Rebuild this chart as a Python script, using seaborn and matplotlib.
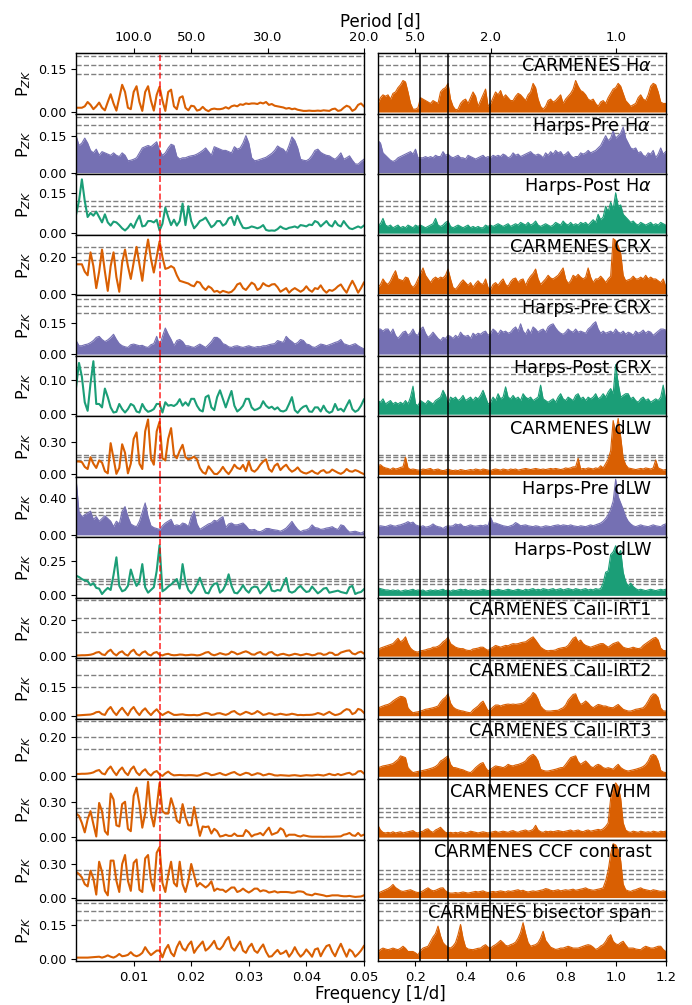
import matplotlib
matplotlib.use("Agg")
import matplotlib.pyplot as plt
import numpy as np
import pandas as pd
import seaborn as sns

# sampling grids [1/d]: left column 0-0.05, right column 0.05-1.2
freq_lo = np.round(np.arange(101) * 0.0005, 4)
freq_hi = np.round(0.05 + np.arange(116) * 0.01, 3)

# --- power values (left / right column) ---
carm_ha_lo = [
    0.015, 0.015, 0.015, 0.02, 0.035, 0.025, 0.01, 0.02, 0.033, 0.015,
    0.006, 0.035, 0.062, 0.03, 0.005, 0.05, 0.095, 0.07, 0.015, 0.01,
    0.07, 0.09, 0.035, 0.004, 0.07, 0.09, 0.04, 0.005, 0.06, 0.088,
    0.04, 0.004, 0.07, 0.078, 0.02, 0.01, 0.05, 0.055, 0.015, 0.006,
    0.022, 0.02, 0.005, 0.008, 0.018, 0.008, 0.003, 0.01, 0.012, 0.01,
    0.01, 0.012, 0.017, 0.012, 0.02, 0.023, 0.02, 0.027, 0.025, 0.03,
    0.028, 0.03, 0.03, 0.028, 0.033, 0.03, 0.035, 0.025, 0.028, 0.022,
    0.02, 0.018, 0.016, 0.012, 0.014, 0.01, 0.012, 0.008, 0.006, 0.004,
    0.004, 0.005, 0.004, 0.004, 0.005, 0.004, 0.006, 0.005, 0.004, 0.01,
    0.012, 0.004, 0.006, 0.015, 0.022, 0.018, 0.004, 0.01, 0.025, 0.03, 0.02]
carm_ha_hi = [
    0.03, 0.05, 0.06, 0.055, 0.06, 0.045, 0.065, 0.07, 0.085, 0.095,
    0.11, 0.105, 0.07, 0.03, 0.01, 0.01, 0.015, 0.05, 0.045, 0.04,
    0.035, 0.03, 0.04, 0.035, 0.03, 0.07, 0.08, 0.085, 0.1, 0.045,
    0.02, 0.008, 0.01, 0.03, 0.04, 0.045, 0.03, 0.05, 0.07, 0.055,
    0.02, 0.04, 0.06, 0.08, 0.02, 0.03, 0.05, 0.07, 0.06, 0.075,
    0.05, 0.06, 0.05, 0.04, 0.04, 0.055, 0.065, 0.06, 0.05, 0.04,
    0.06, 0.07, 0.1, 0.085, 0.045, 0.02, 0.01, 0.02, 0.04, 0.045,
    0.035, 0.04, 0.05, 0.06, 0.03, 0.045, 0.055, 0.065, 0.08, 0.11,
    0.09, 0.075, 0.07, 0.06, 0.045, 0.04, 0.045, 0.03, 0.02, 0.035,
    0.04, 0.03, 0.05, 0.065, 0.08, 0.085, 0.1, 0.09, 0.065, 0.04,
    0.03, 0.02, 0.025, 0.03, 0.05, 0.06, 0.045, 0.04, 0.06, 0.09,
    0.1, 0.095, 0.07, 0.035, 0.03, 0.03]

hpre_ha_lo = [
    0.15, 0.11, 0.12, 0.14, 0.12, 0.09, 0.08, 0.095, 0.07, 0.085,
    0.08, 0.075, 0.07, 0.08, 0.07, 0.065, 0.08, 0.07, 0.048, 0.05,
    0.054, 0.06, 0.08, 0.1, 0.105, 0.11, 0.105, 0.115, 0.125, 0.09,
    0.07, 0.08, 0.1, 0.115, 0.11, 0.065, 0.055, 0.06, 0.06, 0.065,
    0.068, 0.07, 0.075, 0.082, 0.09, 0.1, 0.085, 0.07, 0.105, 0.1,
    0.095, 0.09, 0.09, 0.085, 0.08, 0.105, 0.095, 0.1, 0.12, 0.15,
    0.12, 0.06, 0.048, 0.05, 0.054, 0.058, 0.062, 0.07, 0.078, 0.09,
    0.108, 0.1, 0.095, 0.08, 0.11, 0.145, 0.13, 0.1, 0.054, 0.05,
    0.048, 0.055, 0.07, 0.09, 0.095, 0.082, 0.075, 0.07, 0.068, 0.06,
    0.054, 0.065, 0.08, 0.054, 0.06, 0.068, 0.05, 0.035, 0.034, 0.045, 0.054]
hpre_ha_hi = [
    0.13, 0.12, 0.08, 0.07, 0.06, 0.05, 0.045, 0.05, 0.06, 0.065,
    0.07, 0.075, 0.08, 0.085, 0.075, 0.095, 0.06, 0.06, 0.06, 0.065,
    0.06, 0.065, 0.06, 0.07, 0.065, 0.065, 0.085, 0.07, 0.075, 0.065,
    0.06, 0.065, 0.07, 0.06, 0.06, 0.055, 0.07, 0.065, 0.06, 0.055,
    0.06, 0.065, 0.07, 0.06, 0.065, 0.06, 0.07, 0.065, 0.07, 0.065,
    0.075, 0.07, 0.06, 0.065, 0.08, 0.07, 0.075, 0.065, 0.07, 0.075,
    0.08, 0.085, 0.075, 0.07, 0.075, 0.07, 0.06, 0.08, 0.07, 0.085,
    0.075, 0.09, 0.08, 0.085, 0.07, 0.075, 0.085, 0.07, 0.06, 0.065,
    0.065, 0.08, 0.075, 0.08, 0.09, 0.08, 0.085, 0.09, 0.1, 0.11,
    0.13, 0.15, 0.13, 0.14, 0.17, 0.14, 0.15, 0.16, 0.185, 0.14,
    0.12, 0.1, 0.095, 0.1, 0.08, 0.085, 0.07, 0.065, 0.08, 0.075,
    0.09, 0.06, 0.075, 0.1, 0.075, 0.085]

hpost_ha_lo = [
    0.07, 0.12, 0.2, 0.12, 0.06, 0.075, 0.065, 0.08, 0.06, 0.04,
    0.07, 0.04, 0.028, 0.043, 0.04, 0.03, 0.018, 0.01, 0.02, 0.035,
    0.02, 0.045, 0.065, 0.025, 0.028, 0.045, 0.045, 0.04, 0.05, 0.01,
    0.035, 0.095, 0.06, 0.03, 0.05, 0.028, 0.045, 0.11, 0.03, 0.1,
    0.045, 0.018, 0.03, 0.045, 0.05, 0.058, 0.04, 0.022, 0.03, 0.045,
    0.045, 0.028, 0.035, 0.055, 0.06, 0.03, 0.065, 0.04, 0.02, 0.018,
    0.02, 0.025, 0.022, 0.018, 0.022, 0.03, 0.012, 0.009, 0.01, 0.009,
    0.015, 0.025, 0.018, 0.015, 0.02, 0.022, 0.025, 0.02, 0.03, 0.028,
    0.025, 0.032, 0.03, 0.045, 0.04, 0.025, 0.035, 0.045, 0.03, 0.025,
    0.045, 0.03, 0.025, 0.045, 0.03, 0.018, 0.015, 0.02, 0.025, 0.02, 0.028]
hpost_ha_hi = [
    0.03, 0.035, 0.055, 0.03, 0.025, 0.03, 0.02, 0.025, 0.03, 0.02,
    0.025, 0.02, 0.03, 0.025, 0.02, 0.03, 0.025, 0.03, 0.025, 0.02,
    0.025, 0.03, 0.035, 0.055, 0.03, 0.025, 0.03, 0.04, 0.045, 0.025,
    0.02, 0.025, 0.03, 0.025, 0.02, 0.025, 0.03, 0.02, 0.025, 0.02,
    0.025, 0.02, 0.02, 0.03, 0.025, 0.03, 0.025, 0.03, 0.035, 0.03,
    0.025, 0.03, 0.035, 0.025, 0.03, 0.035, 0.03, 0.04, 0.035, 0.03,
    0.04, 0.03, 0.035, 0.045, 0.03, 0.025, 0.03, 0.035, 0.03, 0.025,
    0.03, 0.04, 0.035, 0.03, 0.045, 0.035, 0.03, 0.04, 0.03, 0.035,
    0.03, 0.04, 0.035, 0.04, 0.03, 0.04, 0.05, 0.04, 0.07, 0.05,
    0.06, 0.1, 0.08, 0.115, 0.09, 0.15, 0.1, 0.105, 0.07, 0.06,
    0.05, 0.04, 0.045, 0.035, 0.03, 0.04, 0.035, 0.03, 0.035, 0.04,
    0.03, 0.035, 0.03, 0.04, 0.035, 0.03]

carm_crx_lo = [
    0.16, 0.16, 0.16, 0.12, 0.1, 0.225, 0.15, 0.03, 0.12, 0.24,
    0.12, 0.015, 0.15, 0.225, 0.09, 0.01, 0.17, 0.24, 0.15, 0.08,
    0.17, 0.255, 0.16, 0.07, 0.2, 0.295, 0.19, 0.115, 0.2, 0.285,
    0.2, 0.135, 0.14, 0.15, 0.14, 0.1, 0.07, 0.065, 0.06, 0.055,
    0.045, 0.04, 0.065, 0.06, 0.035, 0.02, 0.04, 0.03, 0.01, 0.015,
    0.005, 0.015, 0.01, 0.005, 0.01, 0.025, 0.05, 0.057, 0.03, 0.02,
    0.04, 0.06, 0.05, 0.02, 0.03, 0.057, 0.045, 0.04, 0.05, 0.052,
    0.035, 0.01, 0.02, 0.03, 0.005, 0.02, 0.03, 0.02, 0.01, 0.02,
    0.04, 0.02, 0.01, 0.03, 0.025, 0.045, 0.02, 0.005, 0.02, 0.015,
    0.025, 0.04, 0.05, 0.025, 0.005, 0.04, 0.07, 0.04, 0.005, 0.03, 0.06]
carm_crx_hi = [
    0.033, 0.05, 0.08, 0.06, 0.05, 0.07, 0.1, 0.125, 0.08, 0.075,
    0.07, 0.09, 0.085, 0.05, 0.033, 0.05, 0.08, 0.11, 0.14, 0.1,
    0.08, 0.06, 0.08, 0.09, 0.08, 0.09, 0.085, 0.1, 0.134, 0.08,
    0.033, 0.024, 0.04, 0.06, 0.075, 0.06, 0.045, 0.06, 0.035, 0.055,
    0.07, 0.055, 0.05, 0.08, 0.033, 0.024, 0.05, 0.06, 0.045, 0.065,
    0.08, 0.05, 0.04, 0.065, 0.08, 0.085, 0.06, 0.075, 0.08, 0.045,
    0.075, 0.095, 0.11, 0.134, 0.08, 0.05, 0.065, 0.08, 0.1, 0.085,
    0.08, 0.09, 0.1, 0.12, 0.14, 0.08, 0.055, 0.07, 0.1, 0.09,
    0.105, 0.09, 0.08, 0.09, 0.14, 0.09, 0.06, 0.08, 0.08, 0.095,
    0.08, 0.06, 0.08, 0.095, 0.3, 0.29, 0.26, 0.22, 0.1, 0.07,
    0.075, 0.08, 0.095, 0.08, 0.08, 0.09, 0.08, 0.1, 0.08, 0.09,
    0.08, 0.08, 0.07, 0.06, 0.08, 0.04]

hpre_crx_lo = [
    0.065, 0.04, 0.04, 0.045, 0.048, 0.055, 0.065, 0.08, 0.085, 0.07,
    0.06, 0.068, 0.08, 0.095, 0.07, 0.05, 0.04, 0.035, 0.032, 0.045,
    0.048, 0.044, 0.04, 0.042, 0.035, 0.032, 0.045, 0.05, 0.085, 0.04,
    0.085, 0.125, 0.095, 0.07, 0.04, 0.065, 0.07, 0.06, 0.04, 0.04,
    0.035, 0.032, 0.04, 0.048, 0.04, 0.032, 0.045, 0.06, 0.08, 0.08,
    0.07, 0.05, 0.045, 0.035, 0.032, 0.038, 0.04, 0.035, 0.032, 0.036,
    0.04, 0.035, 0.032, 0.036, 0.035, 0.04, 0.04, 0.045, 0.048, 0.05,
    0.065, 0.06, 0.056, 0.085, 0.07, 0.06, 0.048, 0.055, 0.07, 0.065,
    0.048, 0.045, 0.035, 0.032, 0.04, 0.048, 0.045, 0.04, 0.045, 0.05,
    0.056, 0.06, 0.07, 0.05, 0.045, 0.04, 0.045, 0.05, 0.04, 0.032, 0.025]
hpre_crx_hi = [
    0.12, 0.12, 0.11, 0.12, 0.12, 0.1, 0.12, 0.09, 0.075, 0.09,
    0.105, 0.11, 0.09, 0.1, 0.12, 0.095, 0.09, 0.12, 0.13, 0.1,
    0.08, 0.09, 0.105, 0.09, 0.075, 0.065, 0.08, 0.075, 0.09, 0.085,
    0.075, 0.09, 0.08, 0.105, 0.09, 0.085, 0.09, 0.075, 0.1, 0.09,
    0.1, 0.095, 0.105, 0.11, 0.09, 0.1, 0.12, 0.11, 0.095, 0.115,
    0.105, 0.11, 0.1, 0.105, 0.12, 0.13, 0.11, 0.145, 0.11, 0.095,
    0.12, 0.1, 0.13, 0.12, 0.105, 0.115, 0.12, 0.105, 0.13, 0.14,
    0.145, 0.125, 0.11, 0.1, 0.095, 0.105, 0.12, 0.11, 0.105, 0.12,
    0.105, 0.11, 0.105, 0.1, 0.12, 0.13, 0.145, 0.155, 0.12, 0.1,
    0.11, 0.1, 0.105, 0.11, 0.1, 0.12, 0.105, 0.1, 0.11, 0.095,
    0.105, 0.1, 0.09, 0.11, 0.1, 0.105, 0.115, 0.1, 0.11, 0.105,
    0.09, 0.1, 0.11, 0.12, 0.12, 0.115]

hpost_crx_lo = [
    0.08, 0.15, 0.11, 0.035, 0.01, 0.09, 0.155, 0.03, 0.03, 0.02,
    0.075, 0.05, 0.02, 0.005, 0.007, 0.03, 0.015, 0.005, 0.015, 0.03,
    0.025, 0.008, 0.005, 0.03, 0.015, 0.007, 0.01, 0.015, 0.03, 0.03,
    0.005, 0.035, 0.025, 0.027, 0.024, 0.03, 0.044, 0.025, 0.035, 0.025,
    0.045, 0.045, 0.025, 0.012, 0.008, 0.05, 0.055, 0.02, 0.012, 0.05,
    0.07, 0.045, 0.02, 0.045, 0.068, 0.025, 0.008, 0.015, 0.025, 0.045,
    0.045, 0.02, 0.012, 0.015, 0.02, 0.038, 0.025, 0.018, 0.022, 0.014,
    0.02, 0.01, 0.008, 0.012, 0.03, 0.05, 0.012, 0.004, 0.015, 0.022,
    0.025, 0.008, 0.007, 0.02, 0.02, 0.008, 0.025, 0.01, 0.004, 0.008,
    0.03, 0.012, 0.016, 0.008, 0.025, 0.041, 0.015, 0.007, 0.012, 0.025, 0.043]
hpost_crx_hi = [
    0.04, 0.035, 0.045, 0.03, 0.035, 0.04, 0.03, 0.035, 0.03, 0.035,
    0.03, 0.04, 0.03, 0.05, 0.082, 0.03, 0.025, 0.04, 0.035, 0.03,
    0.04, 0.035, 0.03, 0.04, 0.045, 0.05, 0.07, 0.055, 0.03, 0.05,
    0.045, 0.05, 0.04, 0.045, 0.055, 0.04, 0.045, 0.05, 0.04, 0.05,
    0.045, 0.055, 0.07, 0.05, 0.03, 0.035, 0.05, 0.04, 0.06, 0.045,
    0.05, 0.08, 0.05, 0.045, 0.055, 0.045, 0.05, 0.04, 0.06, 0.05,
    0.045, 0.05, 0.04, 0.045, 0.05, 0.085, 0.045, 0.04, 0.035, 0.04,
    0.045, 0.035, 0.05, 0.06, 0.045, 0.04, 0.05, 0.045, 0.04, 0.055,
    0.06, 0.045, 0.05, 0.04, 0.05, 0.045, 0.05, 0.06, 0.045, 0.05,
    0.06, 0.05, 0.065, 0.075, 0.06, 0.145, 0.09, 0.05, 0.055, 0.06,
    0.06, 0.045, 0.05, 0.04, 0.035, 0.045, 0.05, 0.04, 0.045, 0.035,
    0.04, 0.045, 0.04, 0.05, 0.085, 0.04]

carm_dlw_lo = [
    0.12, 0.12, 0.115, 0.07, 0.05, 0.16, 0.1, 0.06, 0.13, 0.11,
    0.03, 0.01, 0.29, 0.15, 0.005, 0.06, 0.28, 0.2, 0.01, 0.1,
    0.33, 0.39, 0.1, 0.05, 0.4, 0.51, 0.15, 0.09, 0.4, 0.49,
    0.15, 0.13, 0.33, 0.43, 0.18, 0.15, 0.22, 0.275, 0.16, 0.14,
    0.15, 0.165, 0.14, 0.06, 0.02, 0.005, 0.075, 0.04, 0.005, 0.003,
    0.03, 0.07, 0.03, 0.003, 0.04, 0.09, 0.06, 0.05, 0.088, 0.03,
    0.12, 0.04, 0.025, 0.05, 0.09, 0.12, 0.14, 0.05, 0.025, 0.08,
    0.1, 0.04, 0.07, 0.09, 0.05, 0.025, 0.04, 0.065, 0.03, 0.015,
    0.008, 0.02, 0.035, 0.015, 0.005, 0.03, 0.04, 0.015, 0.02, 0.045,
    0.03, 0.015, 0.005, 0.02, 0.05, 0.03, 0.025, 0.04, 0.03, 0.015, 0.003]
carm_dlw_hi = [
    0.08, 0.09, 0.07, 0.06, 0.055, 0.045, 0.06, 0.05, 0.055, 0.065,
    0.07, 0.16, 0.06, 0.045, 0.05, 0.045, 0.04, 0.04, 0.05, 0.045,
    0.05, 0.055, 0.04, 0.045, 0.05, 0.04, 0.035, 0.04, 0.05, 0.04,
    0.035, 0.04, 0.035, 0.045, 0.04, 0.035, 0.04, 0.045, 0.04, 0.05,
    0.045, 0.04, 0.05, 0.045, 0.04, 0.035, 0.045, 0.05, 0.045, 0.04,
    0.05, 0.045, 0.04, 0.05, 0.045, 0.05, 0.04, 0.045, 0.05, 0.055,
    0.05, 0.045, 0.05, 0.055, 0.05, 0.045, 0.05, 0.045, 0.05, 0.055,
    0.05, 0.055, 0.05, 0.045, 0.05, 0.06, 0.055, 0.06, 0.07, 0.07,
    0.15, 0.05, 0.055, 0.05, 0.06, 0.055, 0.05, 0.06, 0.055, 0.08,
    0.06, 0.1, 0.14, 0.22, 0.5, 0.38, 0.52, 0.35, 0.15, 0.09,
    0.06, 0.055, 0.05, 0.045, 0.05, 0.055, 0.05, 0.06, 0.055, 0.05,
    0.06, 0.134, 0.06, 0.05, 0.04, 0.045]

hpre_dlw_lo = [
    0.61, 0.25, 0.2, 0.22, 0.24, 0.26, 0.17, 0.2, 0.15, 0.18,
    0.21, 0.18, 0.15, 0.09, 0.15, 0.12, 0.26, 0.31, 0.2, 0.12,
    0.1, 0.09, 0.15, 0.25, 0.35, 0.2, 0.1, 0.08, 0.07, 0.06,
    0.1, 0.13, 0.15, 0.17, 0.1, 0.11, 0.1, 0.13, 0.12, 0.09,
    0.2, 0.26, 0.12, 0.06, 0.08, 0.1, 0.12, 0.13, 0.16, 0.15,
    0.18, 0.2, 0.08, 0.12, 0.13, 0.11, 0.11, 0.12, 0.13, 0.1,
    0.06, 0.055, 0.06, 0.04, 0.035, 0.05, 0.07, 0.07, 0.06, 0.055,
    0.05, 0.04, 0.055, 0.075, 0.11, 0.148, 0.1, 0.06, 0.035, 0.05,
    0.055, 0.07, 0.11, 0.08, 0.075, 0.06, 0.065, 0.075, 0.08, 0.09,
    0.07, 0.06, 0.11, 0.1, 0.06, 0.03, 0.035, 0.04, 0.03, 0.02, 0.035]
hpre_dlw_hi = [
    0.09, 0.1, 0.095, 0.09, 0.1, 0.11, 0.1, 0.095, 0.105, 0.11,
    0.12, 0.13, 0.145, 0.13, 0.14, 0.11, 0.1, 0.09, 0.1, 0.085,
    0.09, 0.1, 0.12, 0.1, 0.09, 0.085, 0.07, 0.09, 0.1, 0.095,
    0.1, 0.12, 0.11, 0.12, 0.095, 0.09, 0.1, 0.11, 0.1, 0.095,
    0.1, 0.105, 0.1, 0.11, 0.1, 0.195, 0.13, 0.13, 0.12, 0.11,
    0.1, 0.095, 0.09, 0.1, 0.11, 0.135, 0.12, 0.1, 0.105, 0.11,
    0.1, 0.095, 0.09, 0.1, 0.095, 0.085, 0.09, 0.1, 0.095, 0.09,
    0.1, 0.105, 0.11, 0.1, 0.11, 0.105, 0.1, 0.11, 0.1, 0.095,
    0.09, 0.1, 0.095, 0.09, 0.1, 0.11, 0.1, 0.11, 0.12, 0.13,
    0.15, 0.18, 0.22, 0.28, 0.37, 0.61, 0.42, 0.35, 0.28, 0.2,
    0.15, 0.12, 0.1, 0.09, 0.1, 0.11, 0.1, 0.095, 0.09, 0.1,
    0.11, 0.1, 0.095, 0.09, 0.11, 0.12]

hpost_dlw_lo = [
    0.145, 0.135, 0.12, 0.11, 0.105, 0.075, 0.09, 0.055, 0.05, 0.01,
    0.035, 0.055, 0.04, 0.15, 0.28, 0.07, 0.03, 0.04, 0.07, 0.19,
    0.12, 0.07, 0.1, 0.23, 0.06, 0.02, 0.04, 0.06, 0.18, 0.37,
    0.03, 0.045, 0.065, 0.08, 0.1, 0.12, 0.05, 0.23, 0.1, 0.04,
    0.015, 0.04, 0.08, 0.13, 0.07, 0.02, 0.015, 0.06, 0.085, 0.09,
    0.02, 0.04, 0.08, 0.155, 0.07, 0.02, 0.015, 0.04, 0.075, 0.04,
    0.02, 0.055, 0.065, 0.06, 0.015, 0.04, 0.06, 0.1, 0.035, 0.03,
    0.04, 0.035, 0.08, 0.128, 0.03, 0.02, 0.03, 0.055, 0.07, 0.045,
    0.025, 0.03, 0.065, 0.04, 0.015, 0.03, 0.05, 0.055, 0.02, 0.025,
    0.03, 0.035, 0.025, 0.02, 0.015, 0.06, 0.07, 0.01, 0.02, 0.025, 0.045]
hpost_dlw_hi = [
    0.055, 0.05, 0.045, 0.04, 0.04, 0.035, 0.04, 0.035, 0.04, 0.03,
    0.035, 0.04, 0.035, 0.04, 0.045, 0.035, 0.04, 0.035, 0.04, 0.03,
    0.035, 0.04, 0.035, 0.04, 0.035, 0.04, 0.045, 0.035, 0.04, 0.03,
    0.04, 0.035, 0.04, 0.045, 0.04, 0.045, 0.035, 0.04, 0.035, 0.04,
    0.035, 0.04, 0.045, 0.04, 0.035, 0.04, 0.035, 0.04, 0.045, 0.04,
    0.035, 0.04, 0.045, 0.04, 0.035, 0.04, 0.045, 0.04, 0.035, 0.045,
    0.04, 0.045, 0.05, 0.04, 0.045, 0.04, 0.05, 0.045, 0.04, 0.045,
    0.05, 0.04, 0.045, 0.05, 0.04, 0.045, 0.05, 0.045, 0.04, 0.05,
    0.045, 0.04, 0.045, 0.05, 0.04, 0.045, 0.04, 0.05, 0.045, 0.05,
    0.09, 0.17, 0.18, 0.3, 0.32, 0.365, 0.3, 0.33, 0.17, 0.1,
    0.07, 0.09, 0.065, 0.05, 0.04, 0.045, 0.04, 0.035, 0.04, 0.045,
    0.04, 0.035, 0.04, 0.045, 0.04, 0.045]

irt1_lo = [
    0.004, 0.004, 0.005, 0.005, 0.006, 0.008, 0.012, 0.02, 0.023, 0.01,
    0.006, 0.025, 0.036, 0.015, 0.004, 0.02, 0.027, 0.01, 0.003, 0.025,
    0.036, 0.012, 0.004, 0.02, 0.027, 0.01, 0.004, 0.018, 0.023, 0.008,
    0.004, 0.01, 0.013, 0.007, 0.005, 0.006, 0.009, 0.008, 0.005, 0.006,
    0.008, 0.007, 0.004, 0.006, 0.012, 0.02, 0.023, 0.01, 0.005, 0.01,
    0.017, 0.012, 0.008, 0.012, 0.025, 0.02, 0.01, 0.015, 0.022, 0.027,
    0.02, 0.01, 0.008, 0.018, 0.023, 0.01, 0.008, 0.02, 0.023, 0.01,
    0.004, 0.01, 0.013, 0.008, 0.004, 0.008, 0.013, 0.01, 0.005, 0.008,
    0.013, 0.01, 0.005, 0.007, 0.015, 0.015, 0.007, 0.01, 0.02, 0.018,
    0.006, 0.008, 0.02, 0.025, 0.03, 0.032, 0.015, 0.01, 0.02, 0.025, 0.015]
irt1_hi = [
    0.032, 0.045, 0.05, 0.055, 0.06, 0.065, 0.07, 0.085, 0.1, 0.08,
    0.09, 0.108, 0.07, 0.045, 0.032, 0.025, 0.023, 0.03, 0.032, 0.035,
    0.04, 0.042, 0.05, 0.05, 0.055, 0.065, 0.08, 0.09, 0.105, 0.07,
    0.06, 0.05, 0.045, 0.042, 0.042, 0.035, 0.032, 0.032, 0.04, 0.042,
    0.045, 0.05, 0.05, 0.04, 0.032, 0.042, 0.05, 0.06, 0.055, 0.05,
    0.055, 0.06, 0.058, 0.065, 0.07, 0.068, 0.07, 0.075, 0.078, 0.08,
    0.09, 0.1, 0.108, 0.09, 0.07, 0.05, 0.04, 0.032, 0.03, 0.032,
    0.032, 0.035, 0.042, 0.045, 0.048, 0.05, 0.06, 0.08, 0.1, 0.108,
    0.08, 0.09, 0.07, 0.06, 0.055, 0.05, 0.055, 0.06, 0.065, 0.07,
    0.07, 0.06, 0.05, 0.06, 0.07, 0.075, 0.08, 0.065, 0.05, 0.045,
    0.042, 0.045, 0.05, 0.045, 0.042, 0.045, 0.06, 0.07, 0.08, 0.09,
    0.1, 0.105, 0.09, 0.045, 0.032, 0.03]

irt2_lo = [
    0.002, 0.002, 0.003, 0.004, 0.005, 0.006, 0.01, 0.018, 0.02, 0.008,
    0.004, 0.03, 0.045, 0.02, 0.003, 0.025, 0.041, 0.02, 0.002, 0.03,
    0.045, 0.02, 0.003, 0.025, 0.038, 0.018, 0.003, 0.02, 0.033, 0.015,
    0.003, 0.012, 0.02, 0.012, 0.004, 0.004, 0.006, 0.007, 0.004, 0.003,
    0.003, 0.004, 0.002, 0.004, 0.01, 0.014, 0.012, 0.004, 0.006, 0.012,
    0.013, 0.008, 0.004, 0.01, 0.02, 0.024, 0.012, 0.005, 0.012, 0.02,
    0.015, 0.008, 0.013, 0.024, 0.015, 0.004, 0.007, 0.013, 0.01, 0.004,
    0.006, 0.01, 0.007, 0.004, 0.006, 0.01, 0.007, 0.003, 0.004, 0.003,
    0.004, 0.004, 0.005, 0.008, 0.014, 0.01, 0.004, 0.012, 0.02, 0.01,
    0.003, 0.006, 0.012, 0.025, 0.034, 0.03, 0.008, 0.015, 0.035, 0.03, 0.015]
irt2_hi = [
    0.04, 0.045, 0.05, 0.055, 0.058, 0.065, 0.076, 0.085, 0.093, 0.1,
    0.098, 0.09, 0.04, 0.025, 0.015, 0.018, 0.02, 0.024, 0.028, 0.033,
    0.035, 0.038, 0.041, 0.045, 0.05, 0.07, 0.085, 0.095, 0.113, 0.065,
    0.045, 0.035, 0.03, 0.026, 0.024, 0.02, 0.017, 0.015, 0.03, 0.04,
    0.05, 0.065, 0.075, 0.05, 0.024, 0.033, 0.045, 0.055, 0.055, 0.05,
    0.055, 0.058, 0.06, 0.058, 0.06, 0.058, 0.06, 0.062, 0.066, 0.075,
    0.09, 0.1, 0.12, 0.11, 0.085, 0.05, 0.035, 0.025, 0.024, 0.024,
    0.026, 0.027, 0.028, 0.035, 0.041, 0.055, 0.08, 0.095, 0.11, 0.113,
    0.08, 0.058, 0.065, 0.076, 0.065, 0.05, 0.041, 0.05, 0.058, 0.055,
    0.05, 0.05, 0.045, 0.042, 0.041, 0.05, 0.058, 0.045, 0.033, 0.028,
    0.024, 0.024, 0.028, 0.033, 0.035, 0.038, 0.041, 0.055, 0.076, 0.1,
    0.113, 0.11, 0.093, 0.04, 0.025, 0.024]

irt3_lo = [
    0.012, 0.012, 0.013, 0.013, 0.014, 0.016, 0.02, 0.028, 0.032, 0.015,
    0.01, 0.035, 0.05, 0.025, 0.006, 0.03, 0.045, 0.02, 0.006, 0.035,
    0.05, 0.02, 0.006, 0.025, 0.036, 0.015, 0.004, 0.02, 0.027, 0.01,
    0.002, 0.015, 0.024, 0.012, 0.005, 0.006, 0.007, 0.006, 0.005, 0.006,
    0.006, 0.005, 0.003, 0.006, 0.012, 0.017, 0.014, 0.006, 0.008, 0.013,
    0.017, 0.01, 0.006, 0.012, 0.018, 0.022, 0.012, 0.006, 0.012, 0.018,
    0.015, 0.006, 0.01, 0.016, 0.013, 0.005, 0.008, 0.013, 0.01, 0.005,
    0.004, 0.006, 0.005, 0.004, 0.003, 0.005, 0.006, 0.004, 0.002, 0.004,
    0.006, 0.005, 0.004, 0.006, 0.008, 0.006, 0.004, 0.008, 0.013, 0.008,
    0.006, 0.012, 0.006, 0.01, 0.015, 0.018, 0.008, 0.012, 0.025, 0.027, 0.015]
irt3_hi = [
    0.044, 0.048, 0.053, 0.055, 0.058, 0.061, 0.065, 0.075, 0.085, 0.104,
    0.1, 0.095, 0.044, 0.03, 0.019, 0.022, 0.025, 0.027, 0.03, 0.033,
    0.036, 0.04, 0.044, 0.05, 0.06, 0.078, 0.085, 0.095, 0.104, 0.061,
    0.045, 0.044, 0.04, 0.036, 0.033, 0.027, 0.022, 0.019, 0.03, 0.044,
    0.055, 0.065, 0.07, 0.045, 0.027, 0.036, 0.045, 0.053, 0.05, 0.048,
    0.044, 0.05, 0.061, 0.055, 0.053, 0.058, 0.06, 0.065, 0.07, 0.078,
    0.095, 0.105, 0.112, 0.1, 0.078, 0.036, 0.03, 0.027, 0.027, 0.03,
    0.033, 0.036, 0.04, 0.044, 0.045, 0.06, 0.078, 0.095, 0.1, 0.104,
    0.075, 0.061, 0.07, 0.078, 0.065, 0.05, 0.044, 0.055, 0.061, 0.055,
    0.044, 0.04, 0.044, 0.04, 0.036, 0.05, 0.061, 0.045, 0.036, 0.03,
    0.027, 0.03, 0.033, 0.036, 0.04, 0.044, 0.05, 0.06, 0.078, 0.105,
    0.112, 0.105, 0.078, 0.03, 0.022, 0.019]

fwhm_lo = [
    0.2, 0.18, 0.12, 0.04, 0.15, 0.22, 0.11, 0.005, 0.29, 0.22,
    0.05, 0.02, 0.37, 0.32, 0.1, 0.09, 0.28, 0.3, 0.07, 0.05,
    0.35, 0.42, 0.28, 0.08, 0.2, 0.47, 0.2, 0.09, 0.25, 0.46,
    0.22, 0.2, 0.2, 0.33, 0.25, 0.14, 0.12, 0.28, 0.17, 0.1,
    0.1, 0.255, 0.13, 0.01, 0.09, 0.085, 0.09, 0.03, 0.07, 0.05,
    0.005, 0.01, 0.02, 0.01, 0.01, 0.03, 0.01, 0.01, 0.01, 0.06,
    0.04, 0.005, 0.02, 0.025, 0.035, 0.015, 0.05, 0.08, 0.02, 0.03,
    0.04, 0.075, 0.06, 0.005, 0.02, 0.02, 0.02, 0.01, 0.005, 0.015,
    0.01, 0.005, 0.003, 0.003, 0.003, 0.003, 0.002, 0.003, 0.003, 0.003,
    0.004, 0.005, 0.006, 0.02, 0.025, 0.035, 0.015, 0.01, 0.035, 0.01, 0.02]
fwhm_hi = [
    0.1, 0.06, 0.04, 0.035, 0.04, 0.035, 0.045, 0.035, 0.04, 0.045,
    0.035, 0.04, 0.045, 0.05, 0.055, 0.04, 0.035, 0.045, 0.05, 0.065,
    0.07, 0.05, 0.04, 0.06, 0.07, 0.083, 0.06, 0.04, 0.035, 0.04,
    0.035, 0.04, 0.035, 0.045, 0.04, 0.035, 0.04, 0.05, 0.045, 0.04,
    0.035, 0.04, 0.045, 0.04, 0.035, 0.04, 0.045, 0.05, 0.04, 0.045,
    0.05, 0.045, 0.04, 0.05, 0.055, 0.045, 0.04, 0.05, 0.055, 0.06,
    0.05, 0.055, 0.065, 0.1, 0.06, 0.045, 0.04, 0.05, 0.045, 0.05,
    0.045, 0.05, 0.055, 0.05, 0.045, 0.05, 0.055, 0.06, 0.05, 0.055,
    0.06, 0.05, 0.045, 0.055, 0.06, 0.05, 0.055, 0.06, 0.065, 0.06,
    0.07, 0.09, 0.12, 0.33, 0.42, 0.46, 0.43, 0.33, 0.12, 0.06,
    0.045, 0.04, 0.05, 0.045, 0.04, 0.05, 0.045, 0.04, 0.045, 0.04,
    0.05, 0.045, 0.04, 0.05, 0.045, 0.05]

contrast_lo = [
    0.23, 0.21, 0.18, 0.12, 0.1, 0.24, 0.17, 0.027, 0.32, 0.23,
    0.06, 0.02, 0.33, 0.33, 0.15, 0.05, 0.3, 0.38, 0.15, 0.06,
    0.31, 0.34, 0.07, 0.05, 0.35, 0.38, 0.15, 0.06, 0.4, 0.45,
    0.13, 0.05, 0.2, 0.32, 0.13, 0.1, 0.32, 0.12, 0.05, 0.15,
    0.3, 0.2, 0.1, 0.13, 0.11, 0.09, 0.11, 0.145, 0.06, 0.08,
    0.07, 0.07, 0.05, 0.07, 0.09, 0.09, 0.05, 0.06, 0.08, 0.06,
    0.045, 0.06, 0.08, 0.08, 0.055, 0.065, 0.06, 0.045, 0.05, 0.057,
    0.045, 0.05, 0.05, 0.05, 0.048, 0.043, 0.045, 0.055, 0.055, 0.05,
    0.03, 0.025, 0.02, 0.035, 0.03, 0.025, 0.02, 0.012, 0.015, 0.02,
    0.02, 0.02, 0.015, 0.012, 0.012, 0.015, 0.01, 0.006, 0.008, 0.01, 0.02]
contrast_hi = [
    0.04, 0.05, 0.06, 0.07, 0.08, 0.095, 0.117, 0.09, 0.075, 0.06,
    0.055, 0.06, 0.065, 0.07, 0.06, 0.05, 0.045, 0.05, 0.06, 0.075,
    0.087, 0.07, 0.06, 0.065, 0.075, 0.085, 0.087, 0.06, 0.045, 0.04,
    0.04, 0.045, 0.04, 0.045, 0.05, 0.045, 0.04, 0.045, 0.05, 0.055,
    0.05, 0.055, 0.06, 0.05, 0.045, 0.05, 0.055, 0.05, 0.055, 0.06,
    0.055, 0.05, 0.06, 0.055, 0.06, 0.065, 0.07, 0.06, 0.065, 0.055,
    0.05, 0.055, 0.06, 0.055, 0.06, 0.065, 0.07, 0.08, 0.075, 0.065,
    0.06, 0.065, 0.07, 0.06, 0.065, 0.07, 0.065, 0.07, 0.075, 0.065,
    0.07, 0.075, 0.08, 0.087, 0.075, 0.07, 0.065, 0.07, 0.075, 0.08,
    0.087, 0.15, 0.24, 0.39, 0.48, 0.47, 0.43, 0.33, 0.12, 0.07,
    0.06, 0.055, 0.065, 0.07, 0.08, 0.087, 0.075, 0.07, 0.065, 0.06,
    0.07, 0.065, 0.06, 0.055, 0.06, 0.055]

bis_lo = [
    0.004, 0.004, 0.004, 0.004, 0.004, 0.005, 0.006, 0.007, 0.008, 0.004,
    0.008, 0.014, 0.008, 0.004, 0.01, 0.02, 0.01, 0.012, 0.016, 0.028,
    0.015, 0.01, 0.015, 0.025, 0.05, 0.03, 0.015, 0.025, 0.035, 0.035,
    0.005, 0.04, 0.06, 0.025, 0.01, 0.05, 0.075, 0.045, 0.035, 0.06,
    0.075, 0.025, 0.045, 0.06, 0.075, 0.035, 0.045, 0.06, 0.078, 0.045,
    0.04, 0.055, 0.08, 0.095, 0.05, 0.035, 0.055, 0.075, 0.035, 0.025,
    0.05, 0.065, 0.035, 0.025, 0.045, 0.062, 0.03, 0.008, 0.01, 0.025,
    0.038, 0.02, 0.025, 0.035, 0.008, 0.025, 0.05, 0.025, 0.008, 0.02,
    0.04, 0.025, 0.008, 0.04, 0.045, 0.01, 0.035, 0.055, 0.06, 0.03,
    0.01, 0.04, 0.065, 0.035, 0.008, 0.04, 0.03, 0.008, 0.02, 0.035, 0.055]
bis_hi = [
    0.03, 0.04, 0.046, 0.042, 0.039, 0.042, 0.046, 0.042, 0.039, 0.045,
    0.054, 0.045, 0.031, 0.031, 0.031, 0.025, 0.016, 0.035, 0.046, 0.05,
    0.054, 0.075, 0.095, 0.11, 0.143, 0.1, 0.07, 0.058, 0.05, 0.046,
    0.055, 0.07, 0.105, 0.15, 0.09, 0.05, 0.042, 0.04, 0.039, 0.042,
    0.045, 0.046, 0.055, 0.061, 0.05, 0.046, 0.055, 0.061, 0.07, 0.08,
    0.07, 0.058, 0.055, 0.061, 0.065, 0.072, 0.09, 0.115, 0.158, 0.11,
    0.07, 0.054, 0.058, 0.061, 0.07, 0.09, 0.12, 0.08, 0.065, 0.05,
    0.045, 0.04, 0.042, 0.046, 0.046, 0.05, 0.054, 0.05, 0.046, 0.046,
    0.046, 0.05, 0.054, 0.058, 0.061, 0.058, 0.05, 0.04, 0.045, 0.055,
    0.061, 0.075, 0.095, 0.105, 0.076, 0.065, 0.061, 0.07, 0.076, 0.06,
    0.046, 0.046, 0.046, 0.042, 0.04, 0.039, 0.048, 0.054, 0.05, 0.046,
    0.046, 0.05, 0.054, 0.054, 0.04, 0.031]

labels = [
    "CARMENES H$\\alpha$", "Harps-Pre H$\\alpha$", "Harps-Post H$\\alpha$",
    "CARMENES CRX", "Harps-Pre CRX", "Harps-Post CRX",
    "CARMENES dLW", "Harps-Pre dLW", "Harps-Post dLW",
    "CARMENES CaII-IRT1", "CARMENES CaII-IRT2", "CARMENES CaII-IRT3",
    "CARMENES CCF FWHM", "CARMENES CCF contrast", "CARMENES bisector span",
]
# false alarm probability levels per row
fap_levels = [
    [0.131, 0.163, 0.196], [0.161, 0.194, 0.225], [0.0825, 0.101, 0.12],
    [0.183, 0.222, 0.255], [0.197, 0.231, 0.266], [0.098, 0.118, 0.137],
    [0.134, 0.159, 0.181], [0.219, 0.256, 0.293], [0.0825, 0.1025, 0.12],
    [0.137, 0.213, 0.314], [0.148, 0.212, 0.286], [0.137, 0.198, 0.281],
    [0.169, 0.214, 0.246], [0.168, 0.213, 0.246], [0.169, 0.209, 0.247],
]
rot_freq = 0.0146                     # red dashed line
marker_freqs = [0.217, 0.33, 0.498]   # black lines, right column
period_ticks_lo = [100.0, 50.0, 30.0, 20.0]
period_ticks_hi = [5.0, 2.0, 1.0]

ORANGE, PURPLE, GREEN = "#d95f02", "#7570b3", "#1b9e77"
colors = [ORANGE, PURPLE, GREEN] * 3 + [ORANGE] * 6
lo_data = [carm_ha_lo, hpre_ha_lo, hpost_ha_lo, carm_crx_lo, hpre_crx_lo, hpost_crx_lo,
           carm_dlw_lo, hpre_dlw_lo, hpost_dlw_lo, irt1_lo, irt2_lo, irt3_lo,
           fwhm_lo, contrast_lo, bis_lo]
hi_data = [carm_ha_hi, hpre_ha_hi, hpost_ha_hi, carm_crx_hi, hpre_crx_hi, hpost_crx_hi,
           carm_dlw_hi, hpre_dlw_hi, hpost_dlw_hi, irt1_hi, irt2_hi, irt3_hi,
           fwhm_hi, contrast_hi, bis_hi]
ylims = [(-0.006, 0.205), (-0.007, 0.239), (-0.006, 0.219), (-0.009, 0.321),
         (-0.008, 0.282), (-0.006, 0.171), (-0.022, 0.54), (-0.026, 0.637),
         (-0.0175, 0.4275), (-0.012, 0.327), (-0.016, 0.297), (-0.015, 0.293),
         (-0.023, 0.491), (-0.024, 0.516), (-0.01, 0.257)]
yticks = [0.15, 0.15, 0.15, 0.20, 0.15, 0.10, 0.30, 0.40, 0.25, 0.20, 0.15, 0.20,
          0.30, 0.30, 0.15]
dense_left = {1, 4, 7}

plt.rcParams["font.family"] = ["DejaVu Sans"]
fig, axes = plt.subplots(15, 2, figsize=(6.92, 10.05), dpi=100,
                         gridspec_kw=dict(hspace=0, wspace=0.049))
fig.subplots_adjust(left=0.11, right=0.962, top=0.947, bottom=0.044)

for i in range(15):
    ax_l, ax_r = axes[i]
    c = colors[i]
    lo = pd.DataFrame({"freq": freq_lo[:len(lo_data[i])], "power": lo_data[i]})
    hi = pd.DataFrame({"freq": freq_hi[:len(hi_data[i])], "power": hi_data[i]})

    if i in dense_left:
        ax_l.fill_between(lo["freq"], 0, lo["power"], color=c, lw=0, zorder=2)
        sns.lineplot(data=lo, x="freq", y="power", ax=ax_l, color=c, lw=0.8, zorder=2)
    else:
        sns.lineplot(data=lo, x="freq", y="power", ax=ax_l, color=c, lw=1.5, zorder=2)
    ax_r.fill_between(hi["freq"], 0, hi["power"], color=c, lw=0, zorder=2)
    sns.lineplot(data=hi, x="freq", y="power", ax=ax_r, color=c, lw=0.8, zorder=2)

    for ax in (ax_l, ax_r):
        for lev in fap_levels[i]:
            ax.axhline(lev, color="grey", ls="--", lw=1.0, zorder=1)
        ax.set_ylim(*ylims[i])
        ax.set_xlabel("")
        ax.set_ylabel("")
        for s in ax.spines.values():
            s.set_linewidth(1.0)
        ax.tick_params(axis="x", bottom=(i == 14), labelbottom=(i == 14),
                       labelsize=9.5)

    ax_l.axvline(rot_freq, color="red", ls="--", lw=1.2, alpha=0.8, zorder=3)
    for f in marker_freqs:
        ax_r.axvline(f, color="black", lw=1.1, zorder=3)

    ax_l.set_xlim(0, 0.05)
    ax_r.set_xlim(0.05, 1.2)
    ax_l.set_xticks([0.01, 0.02, 0.03, 0.04, 0.05])
    ax_r.set_xticks([0.2, 0.4, 0.6, 0.8, 1.0, 1.2])
    ax_l.set_xticklabels(["0.01", "0.02", "0.03", "0.04", "0.05"])
    ax_r.set_xticklabels(["0.2", "0.4", "0.6", "0.8", "1.0", "1.2"])

    ax_l.set_yticks([0.0, yticks[i]], labels=["0.00", f"{yticks[i]:.2f}"])
    ax_l.tick_params(axis="y", labelsize=9.2)
    ax_l.set_ylabel("P$_{ZK}$", fontsize=11.5)
    ax_l.yaxis.set_label_coords(-0.15, 0.5)
    ax_r.set_yticks([])

    ax_r.text(0.95, 0.79, labels[i], transform=ax_r.transAxes, ha="right",
              va="center", fontsize=12.7, zorder=4)

# period axis on top of the first row
for ax, periods in ((axes[0, 0], period_ticks_lo), (axes[0, 1], period_ticks_hi)):
    sec = ax.secondary_xaxis("top")
    sec.set_ticks([1.0 / p for p in periods], labels=[f"{p:.1f}" for p in periods])
    sec.tick_params(labelsize=9.5)

fig.text(0.549, 0.978, "Period [d]", ha="center", va="center", fontsize=12)
fig.text(0.549, 0.011, "Frequency [1/d]", ha="center", va="center", fontsize=12)

fig.savefig("out.png", dpi=100)
